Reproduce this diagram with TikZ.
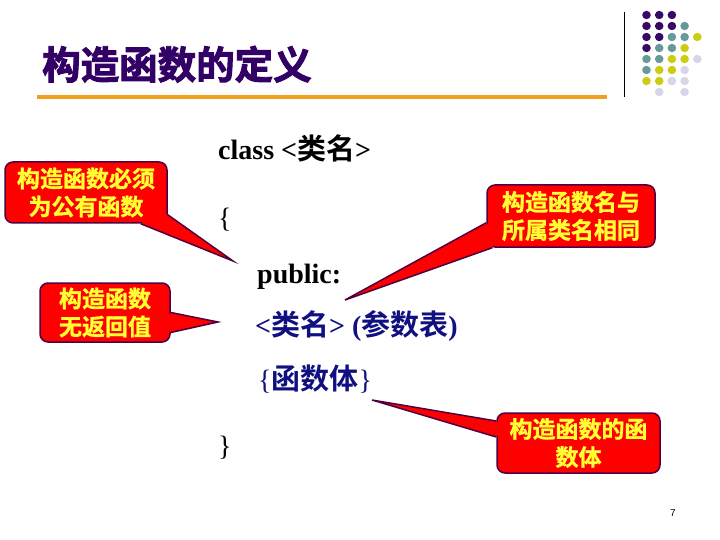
\documentclass[tikz,border=0pt]{standalone}
\usepackage{fontspec}
\setmainfont{Liberation Serif}
\newfontfamily\cjk{Noto Sans CJK SC}[BoldFont={Noto Sans CJK SC Bold}]
\newfontfamily\cjknote{Noto Sans CJK SC Bold}[FakeBold=1.2]
\newfontfamily\cjktitle{Noto Sans CJK SC Bold}[FakeBold=2.5]
\newfontfamily\numfont{Liberation Sans}
\usepackage{tikz}
\usetikzlibrary{calc}
\definecolor{titlepurple}{RGB}{51,0,102}
\definecolor{ruleorange}{RGB}{240,160,32}
\definecolor{codeblue}{RGB}{16,16,128}
\definecolor{noteborder}{RGB}{80,0,64}
\definecolor{notetext}{RGB}{255,255,51}
\definecolor{dotP}{RGB}{56,10,104}
\definecolor{dotT}{RGB}{102,153,153}
\definecolor{dotY}{RGB}{204,204,17}
\definecolor{dotL}{RGB}{214,214,232}
\newcommand{\zh}[1]{{\cjk\bfseries\fontsize{29}{34}\selectfont #1}}
\tikzset{
    note/.style={rectangle, draw=noteborder, line width=1.5pt, fill=red, rounded corners=8pt, align=center, text=notetext, inner sep=0pt, font=\cjknote\fontsize{23}{28}\selectfont},
    tailfill/.style={fill=red},
    tailedge/.style={draw=noteborder, line width=1.5pt},
    codeline/.style={anchor=base west, inner sep=0pt, font=\bfseries\fontsize{28}{34}\selectfont},
    brace/.style={anchor=base west, inner sep=0pt, font=\fontsize{28}{34}\selectfont},
    titletext/.style={anchor=base west, inner sep=0pt, text=titlepurple, font=\cjktitle\fontsize{38.5}{44}\selectfont},
}

\begin{document}
\begin{tikzpicture}[x=1pt, y=-1pt]
    \path[fill=white] (0,0) rectangle (720,540);

    % title and logo
    \node[titletext] (title) at (42,79) {构造函数的定义};
    \draw[ruleorange, line width=4pt] (37,97) -- (607,97);
    \draw[line width=0.8pt] (624,12) -- (624,97);
    \foreach \r/\rowdots in {0/{0/dotP,1/dotP,2/dotP}, 1/{0/dotP,1/dotP,2/dotP,3/dotT},
            2/{0/dotP,1/dotP,2/dotT,3/dotT,4/dotY}, 3/{0/dotP,1/dotT,2/dotT,3/dotY},
            4/{0/dotT,1/dotT,2/dotY,3/dotY,4/dotL}, 5/{0/dotT,1/dotY,2/dotY,3/dotL},
            6/{0/dotY,1/dotY,2/dotL,3/dotL}, 7/{1/dotL,3/dotL}}
        \foreach \k/\c in \rowdots
            \fill[\c] (646.5+12.7*\k, 15+11*\r) ellipse (4.3 and 4.2);

    % code
    \node[codeline] (cls) at (218,160) {class <\zh{类名}>};
    \node[brace] (open) at (218,227) {\{};
    \node[codeline] (pub) at (257,283) {public:};
    \node[codeline, text=codeblue] (ctor) at (255,335) {<\zh{类名}> (\zh{参数表})};
    \node[brace, text=codeblue] (body) at (258,389) {\{\zh{函数体}\}};
    \node[brace] (close) at (218,455) {\}};

    % callouts
    \node[note, minimum width=162pt, minimum height=61pt] (public) at (86,192.5) {构造函数必须\\为公有函数};
    \node[note, minimum width=130pt, minimum height=59pt] (noret) at (105,312.5) {构造函数\\无返回值};
    \node[note, minimum width=168pt, minimum height=62pt] (samename) at (571,216) {构造函数名与\\所属类名相同};
    \node[note, minimum width=163pt, minimum height=60pt] (funbody) at (578.5,443) {构造函数的函\\数体};

    \coordinate (tipA) at (233,261);
    \coordinate (tipB) at (218,322);
    \coordinate (tipC) at (345,300);
    \coordinate (tipD) at (372,400);

    % tails
    \coordinate (a1) at ($(public.south east)+(-27,0)$);
    \coordinate (a2) at ($(public.south east)+(0,-9)$);
    \fill[tailfill] (a1) -- (tipA) -- (a2) -- ($(public.south east)+(-12,-12)$) -- cycle;
    \draw[tailedge] (a1) -- (tipA) -- (a2);

    \coordinate (b1) at ($(noret.east)+(0,0)$);
    \coordinate (b2) at ($(noret.east)+(0,20)$);
    \fill[tailfill] (b1) -- (tipB) -- (b2) -- ($(noret.east)+(-6,10)$) -- cycle;
    \draw[tailedge] (b1) -- (tipB) -- (b2);

    \coordinate (c1) at ($(samename.south west)+(0,-25)$);
    \coordinate (c2) at ($(samename.south west)+(6,0)$);
    \fill[tailfill] (c1) -- (tipC) -- (c2) -- ($(samename.south west)+(12,-12)$) -- cycle;
    \draw[tailedge] (c1) -- (tipC) -- (c2);

    \coordinate (d1) at ($(funbody.west)+(0,-22)$);
    \coordinate (d2) at ($(funbody.west)+(0,-6)$);
    \fill[tailfill] (d1) -- (tipD) -- (d2) -- ($(funbody.west)+(6,-14)$) -- cycle;
    \draw[tailedge] (d1) -- (tipD) -- (d2);

    \node[font=\numfont\fontsize{10}{12}\selectfont] (pagenum) at (673,513) {7};
\end{tikzpicture}
\end{document}
